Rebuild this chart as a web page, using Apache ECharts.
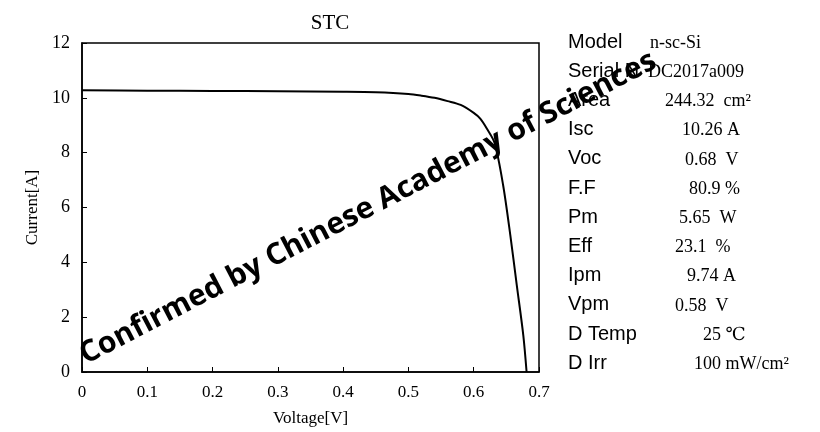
<!DOCTYPE html>
<html>
<head>
<meta charset="utf-8">
<script src="https://cdn.jsdelivr.net/npm/echarts@6/dist/echarts.min.js"></script>
<style>
  html, body { margin: 0; padding: 0; background: #fff; }
  #chart { width: 820px; height: 432px; }
</style>
</head>
<body>
<div id="chart"></div>
<script>
// I-V curve
var voltage = [0, 0.1, 0.2, 0.3, 0.4, 0.45, 0.5, 0.52, 0.54, 0.56, 0.58, 0.6, 0.61, 0.62, 0.632, 0.645, 0.656, 0.666, 0.676, 0.681];
var current = [10.28, 10.26, 10.25, 10.24, 10.22, 10.2, 10.14, 10.08, 10.0, 9.88, 9.74, 9.45, 9.24, 8.88, 8.35, 6.82, 5.0, 3.16, 1.33, 0];

// parameter table
var paramNames = ['Model', 'Serial No', 'Area', 'Isc', 'Voc', 'F.F', 'Pm', 'Eff', 'Ipm', 'Vpm', 'D Temp', 'D Irr'];
var paramValues = ['n-sc-Si', 'DC2017a009', '244.32  cm²', '10.26 A', '0.68  V', '80.9 %', '5.65  W', '23.1  %', '9.74 A', '0.58  V', '25 ℃', '100 mW/cm²'];

var watermark = 'Confirmed by Chinese Academy of Sciences';

// left edge of each value, px
var valueX = [650, 648, 665, 682, 685, 689, 679, 675, 687, 675, 703, 694];

var serif = '"Liberation Serif", "DejaVu Serif", serif';
var sans = '"Liberation Sans", Arial, sans-serif';

var chart = echarts.init(document.getElementById('chart'));

var graphics = [];
paramNames.forEach(function (name, i) {
    var y = 43 + 29.2 * i;
    graphics.push({
        type: 'text', left: 568, top: y - 11, z: 5,
        style: {
            text: name, font: '20px ' + sans, fill: '#000',
            width: 76, overflow: 'truncate', ellipsis: ''
        }
    });
    graphics.push({
        type: 'text', left: valueX[i], top: y - 9, z: 5,
        style: { text: paramValues[i], font: '18px ' + serif, fill: '#000' }
    });
});
graphics.push({
    type: 'text', x: 368, y: 208, z: 10,
    rotation: 27.5 * Math.PI / 180,
    style: {
        text: watermark,
        font: 'bold 30px "Open Sans", sans-serif',
        fill: '#000', align: 'center', verticalAlign: 'middle'
    }
});

var option = {
    backgroundColor: '#fff',
    animation: false,
    title: {
        text: 'STC',
        left: 325, top: 8,
        textAlign: 'center',
        textStyle: { fontFamily: serif, fontWeight: 'normal', fontSize: 21, color: '#000' }
    },
    grid: {
        left: 82, right: 281, top: 43, bottom: 58,
        show: true, borderColor: '#000', borderWidth: 1.5
    },
    xAxis: {
        type: 'value', min: 0, max: 0.7, interval: 0.1,
        name: 'Voltage[V]', nameLocation: 'middle', nameGap: 38,
        nameTextStyle: { fontFamily: serif, fontSize: 17, color: '#000' },
        axisLine: { lineStyle: { color: '#000', width: 1.5 } },
        axisTick: { inside: true, length: 5, lineStyle: { color: '#000' } },
        axisLabel: { fontFamily: serif, fontSize: 17, color: '#000', margin: 12 },
        splitLine: { show: false }
    },
    yAxis: {
        type: 'value', min: 0, max: 12, interval: 2,
        name: 'Current[A]', nameLocation: 'middle', nameGap: 40,
        nameTextStyle: { fontFamily: serif, fontSize: 17, color: '#000' },
        axisLine: { show: true, lineStyle: { color: '#000', width: 1.5 } },
        axisTick: { show: true, inside: true, length: 5, lineStyle: { color: '#000' } },
        axisLabel: { fontFamily: serif, fontSize: 18, color: '#000', margin: 12 },
        splitLine: { show: false }
    },
    series: [{
        type: 'line',
        data: voltage.map(function (v, i) { return [v, current[i]]; }),
        showSymbol: false,
        smooth: 0.3,
        lineStyle: { color: '#000', width: 2 }
    }],
    graphic: graphics
};

chart.setOption(option);
</script>
</body>
</html>
